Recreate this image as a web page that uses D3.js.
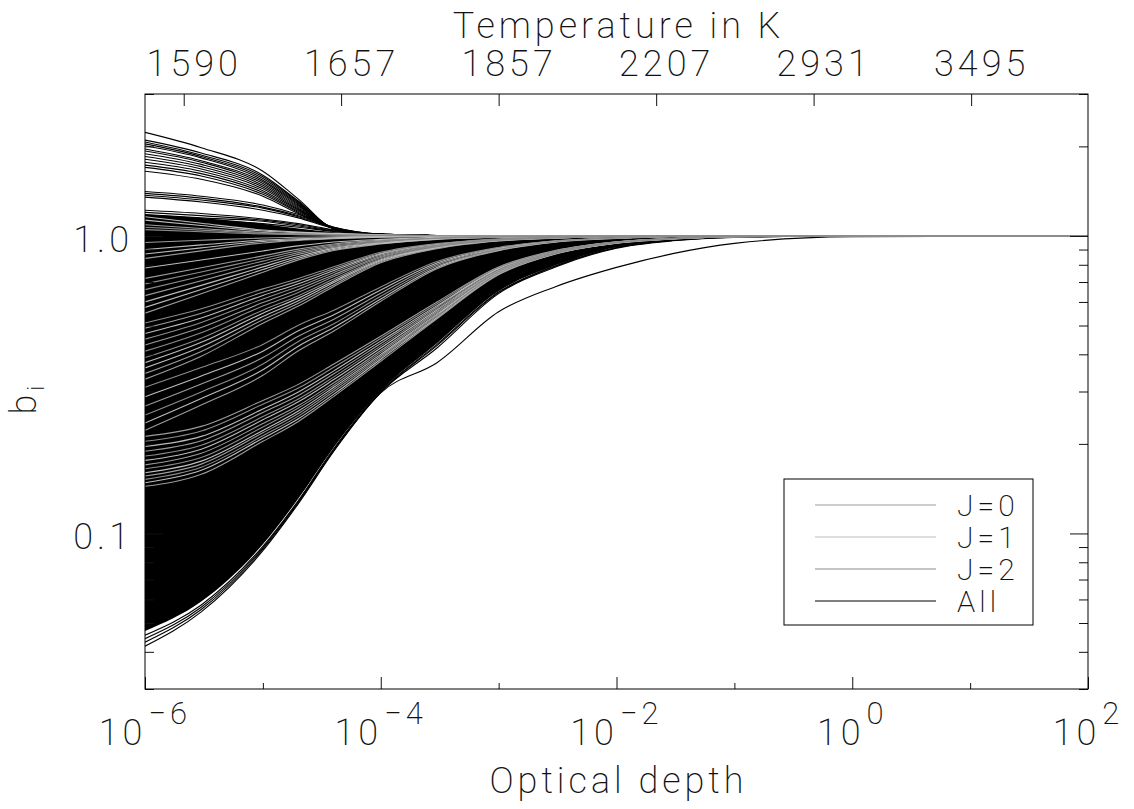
<!DOCTYPE html>
<html>
<head>
<meta charset="utf-8">
<script src="https://cdn.jsdelivr.net/npm/d3@7"></script>
<style>
  body { margin: 0; background: #fff; }
  svg text { font-family: Roboto, "DejaVu Sans", sans-serif; font-weight: 200; fill: #111; letter-spacing: 4px; }
</style>
</head>
<body>
<svg id="chart"></svg>
<script>
// optical depth points that every curve is read at
const tauGrid = [1e-6, 3e-6, 1e-5, 2e-5, 4e-5, 1e-4, 3e-4, 1e-3, 3e-3, 1e-2, 3e-2, 1e-1, 1, 100];

const xMajorTicks = [1e-6, 1e-4, 1e-2, 1, 100];
const xMinorTicks = [1e-5, 1e-3, 1e-1, 10];
const xLabelExp = [-6, -4, -2, 0, 2];
const yMajorTicks = [0.1, 1.0];
const yMinorTicks = [0.03, 0.04, 0.05, 0.06, 0.07, 0.08, 0.09, 0.2, 0.3, 0.4, 0.5, 0.6, 0.7, 0.8, 0.9, 2, 3];
const tempLabels = ["1590", "1657", "1857", "2207", "2931", "3495"];
const tempTickTau = [2.13e-6, 4.61e-5, 1.0e-3, 2.17e-2, 0.470, 10.2];
const legendLabels = ["J=0", "J=1", "J=2", "All"];

// the solid black mass of overlapping level curves
const denseLow  = [0.047, 0.059, 0.092, 0.131, 0.195, 0.301, 0.436, 0.652, 0.795, 0.916, 0.967, 0.990, 1, 1];
const denseHigh = [1.18, 1.15, 1.10, 1.06, 1.03, 1.01, 1.003, 1, 1, 1, 1, 1, 1, 1];

// All levels (black)
const allCurves = [
  [2.23, 1.98, 1.65, 1.33, 1.06, 1.012, 1.003, 1, 1, 1, 1, 1, 1, 1],
  [2.10, 1.90, 1.60, 1.31, 1.06, 1.012, 1.003, 1, 1, 1, 1, 1, 1, 1],
  [2.07, 1.87, 1.58, 1.30, 1.06, 1.012, 1.003, 1, 1, 1, 1, 1, 1, 1],
  [2.04, 1.85, 1.56, 1.29, 1.06, 1.012, 1.003, 1, 1, 1, 1, 1, 1, 1],
  [2.01, 1.83, 1.54, 1.28, 1.06, 1.012, 1.003, 1, 1, 1, 1, 1, 1, 1],
  [1.96, 1.79, 1.52, 1.27, 1.06, 1.012, 1.003, 1, 1, 1, 1, 1, 1, 1],
  [1.93, 1.77, 1.50, 1.26, 1.06, 1.012, 1.003, 1, 1, 1, 1, 1, 1, 1],
  [1.89, 1.74, 1.48, 1.25, 1.06, 1.012, 1.003, 1, 1, 1, 1, 1, 1, 1],
  [1.85, 1.71, 1.46, 1.24, 1.06, 1.012, 1.003, 1, 1, 1, 1, 1, 1, 1],
  [1.81, 1.68, 1.44, 1.23, 1.06, 1.012, 1.003, 1, 1, 1, 1, 1, 1, 1],
  [1.77, 1.65, 1.42, 1.22, 1.06, 1.012, 1.003, 1, 1, 1, 1, 1, 1, 1],
  [1.73, 1.62, 1.40, 1.21, 1.06, 1.012, 1.003, 1, 1, 1, 1, 1, 1, 1],
  [1.70, 1.59, 1.38, 1.20, 1.06, 1.012, 1.003, 1, 1, 1, 1, 1, 1, 1],
  [1.65, 1.55, 1.36, 1.19, 1.06, 1.012, 1.003, 1, 1, 1, 1, 1, 1, 1],
  [1.41, 1.36, 1.27, 1.18, 1.07, 1.015, 1.004, 1, 1, 1, 1, 1, 1, 1],
  [1.39, 1.34, 1.25, 1.17, 1.07, 1.015, 1.004, 1, 1, 1, 1, 1, 1, 1],
  [1.37, 1.32, 1.24, 1.16, 1.065, 1.014, 1.004, 1, 1, 1, 1, 1, 1, 1],
  [1.35, 1.30, 1.22, 1.15, 1.06, 1.013, 1.003, 1, 1, 1, 1, 1, 1, 1],
  [1.22, 1.19, 1.14, 1.10, 1.05, 1.012, 1.003, 1, 1, 1, 1, 1, 1, 1],
  [1.20, 1.17, 1.13, 1.09, 1.045, 1.011, 1.003, 1, 1, 1, 1, 1, 1, 1],
  [1.18, 1.15, 1.12, 1.08, 1.04, 1.010, 1.002, 1, 1, 1, 1, 1, 1, 1],
  [1.15, 1.13, 1.10, 1.07, 1.035, 1.010, 1.002, 1, 1, 1, 1, 1, 1, 1],
  [0.0455, 0.0575, 0.0905, 0.129, 0.193, 0.300, 0.432, 0.648, 0.793, 0.915, 0.966, 0.990, 1, 1],
  [0.0443, 0.0565, 0.0895, 0.128, 0.191, 0.299, 0.428, 0.645, 0.790, 0.913, 0.965, 0.990, 1, 1],
  [0.0431, 0.0555, 0.0885, 0.127, 0.190, 0.298, 0.420, 0.640, 0.785, 0.910, 0.963, 0.989, 1, 1],
  [0.0418, 0.0545, 0.0875, 0.126, 0.189, 0.297, 0.375, 0.556, 0.674, 0.784, 0.872, 0.944, 0.995, 1]
];

const j0Curves = [
  [0.144, 0.158, 0.204, 0.238, 0.289, 0.379, 0.527, 0.741, 0.868, 0.945, 0.977, 0.995, 1, 1],
  [0.156, 0.171, 0.218, 0.253, 0.305, 0.395, 0.542, 0.751, 0.873, 0.948, 0.978, 0.995, 1, 1],
  [0.170, 0.186, 0.234, 0.269, 0.321, 0.412, 0.557, 0.761, 0.879, 0.950, 0.979, 0.995, 1, 1],
  [0.189, 0.205, 0.255, 0.291, 0.344, 0.435, 0.577, 0.774, 0.885, 0.953, 0.980, 0.996, 1, 1],
  [0.212, 0.229, 0.280, 0.317, 0.371, 0.460, 0.600, 0.787, 0.893, 0.956, 0.981, 0.996, 1, 1],
  [0.222, 0.270, 0.340, 0.411, 0.479, 0.603, 0.776, 0.892, 0.953, 0.981, 0.995, 0.998, 1, 1],
  [0.268, 0.318, 0.390, 0.460, 0.525, 0.642, 0.802, 0.905, 0.959, 0.984, 0.996, 0.998, 1, 1],
  [0.330, 0.394, 0.509, 0.581, 0.676, 0.812, 0.906, 0.962, 0.983, 0.997, 0.999, 1, 1, 1],
  [0.345, 0.409, 0.523, 0.594, 0.686, 0.819, 0.910, 0.963, 0.984, 0.997, 0.999, 1, 1, 1],
  [0.430, 0.492, 0.597, 0.661, 0.741, 0.853, 0.927, 0.971, 0.987, 0.997, 0.999, 1, 1, 1],
  [0.490, 0.550, 0.647, 0.705, 0.776, 0.874, 0.938, 0.975, 0.989, 0.998, 0.999, 1, 1, 1],
  [0.550, 0.639, 0.755, 0.831, 0.893, 0.939, 0.974, 0.989, 0.998, 0.999, 1, 1, 1, 1],
  [0.630, 0.707, 0.805, 0.867, 0.916, 0.952, 0.980, 0.992, 0.998, 1, 1, 1, 1, 1],
  [0.720, 0.782, 0.857, 0.903, 0.940, 0.966, 0.986, 0.994, 0.999, 1, 1, 1, 1, 1],
  [0.840, 0.891, 0.947, 0.966, 0.978, 0.990, 0.996, 0.999, 1, 1, 1, 1, 1, 1],
  [0.950, 0.967, 0.984, 0.990, 0.993, 0.997, 0.999, 1, 1, 1, 1, 1, 1, 1],
  [1.090, 1.059, 1.027, 1.017, 1.011, 1.005, 1.002, 1, 1, 1, 1, 1, 1, 1]
];

const j1Curves = [
  [0.148, 0.163, 0.209, 0.243, 0.294, 0.385, 0.532, 0.745, 0.870, 0.946, 0.977, 0.995, 1, 1],
  [0.160, 0.175, 0.222, 0.258, 0.310, 0.400, 0.546, 0.754, 0.875, 0.948, 0.978, 0.995, 1, 1],
  [0.176, 0.192, 0.241, 0.277, 0.329, 0.420, 0.564, 0.765, 0.881, 0.951, 0.979, 0.996, 1, 1],
  [0.196, 0.212, 0.262, 0.299, 0.352, 0.443, 0.583, 0.778, 0.888, 0.954, 0.980, 0.996, 1, 1],
  [0.235, 0.284, 0.355, 0.426, 0.492, 0.614, 0.784, 0.896, 0.955, 0.982, 0.996, 0.998, 1, 1],
  [0.288, 0.338, 0.410, 0.480, 0.543, 0.658, 0.811, 0.910, 0.961, 0.984, 0.996, 0.998, 1, 1],
  [0.360, 0.424, 0.536, 0.606, 0.697, 0.825, 0.913, 0.965, 0.985, 0.997, 0.999, 1, 1, 1],
  [0.375, 0.439, 0.550, 0.618, 0.706, 0.832, 0.916, 0.966, 0.985, 0.997, 0.999, 1, 1, 1],
  [0.470, 0.530, 0.631, 0.691, 0.765, 0.868, 0.935, 0.974, 0.989, 0.998, 0.999, 1, 1, 1],
  [0.575, 0.661, 0.771, 0.842, 0.900, 0.943, 0.976, 0.990, 0.998, 0.999, 1, 1, 1, 1],
  [0.600, 0.682, 0.787, 0.853, 0.908, 0.947, 0.978, 0.991, 0.998, 0.999, 1, 1, 1, 1],
  [0.780, 0.830, 0.890, 0.926, 0.954, 0.974, 0.989, 0.996, 0.999, 1, 1, 1, 1, 1],
  [0.870, 0.912, 0.958, 0.972, 0.982, 0.992, 0.997, 1, 1, 1, 1, 1, 1, 1],
  [0.900, 0.933, 0.968, 0.979, 0.986, 0.994, 0.997, 1, 1, 1, 1, 1, 1, 1],
  [1.130, 1.084, 1.039, 1.025, 1.016, 1.007, 1.003, 1, 1, 1, 1, 1, 1, 1],
  [1.160, 1.103, 1.047, 1.030, 1.020, 1.009, 1.004, 1, 1, 1, 1, 1, 1, 1]
];

const j2Curves = [
  [0.152, 0.167, 0.213, 0.248, 0.300, 0.390, 0.537, 0.748, 0.872, 0.947, 0.978, 0.995, 1, 1],
  [0.165, 0.180, 0.228, 0.264, 0.315, 0.406, 0.552, 0.758, 0.877, 0.949, 0.979, 0.995, 1, 1],
  [0.182, 0.198, 0.247, 0.283, 0.336, 0.427, 0.570, 0.769, 0.883, 0.952, 0.980, 0.996, 1, 1],
  [0.204, 0.221, 0.272, 0.308, 0.362, 0.452, 0.592, 0.783, 0.890, 0.955, 0.981, 0.996, 1, 1],
  [0.250, 0.299, 0.371, 0.442, 0.507, 0.627, 0.792, 0.900, 0.956, 0.983, 0.996, 0.998, 1, 1],
  [0.310, 0.361, 0.432, 0.501, 0.563, 0.674, 0.821, 0.915, 0.963, 0.985, 0.996, 0.998, 1, 1],
  [0.390, 0.453, 0.563, 0.630, 0.716, 0.838, 0.920, 0.968, 0.986, 0.997, 0.999, 1, 1, 1],
  [0.410, 0.473, 0.581, 0.646, 0.730, 0.846, 0.924, 0.969, 0.987, 0.997, 0.999, 1, 1, 1],
  [0.450, 0.512, 0.614, 0.676, 0.754, 0.861, 0.931, 0.972, 0.988, 0.998, 0.999, 1, 1, 1],
  [0.510, 0.569, 0.664, 0.719, 0.788, 0.881, 0.942, 0.977, 0.990, 0.998, 0.999, 1, 1, 1],
  [0.660, 0.732, 0.823, 0.879, 0.924, 0.957, 0.982, 0.993, 0.998, 1, 1, 1, 1, 1],
  [0.690, 0.757, 0.840, 0.891, 0.932, 0.961, 0.984, 0.993, 0.999, 1, 1, 1, 1, 1],
  [1.050, 1.033, 1.015, 1.010, 1.006, 1.003, 1.001, 1, 1, 1, 1, 1, 1, 1],
  [1.070, 1.046, 1.021, 1.014, 1.009, 1.004, 1.002, 1, 1, 1, 1, 1, 1, 1]
];

const groupColors = ["#9c9c9c", "#bdbdbd", "#8c8c8c", "#000000"];

class BiPlot {
  constructor(config) {
    this.config = {
      parent: config.parent,
      width: config.width || 1134,
      height: config.height || 809,
      margin: config.margin || {top: 94, right: 46, bottom: 120, left: 145}
    };
    this.init();
  }

  init() {
    let self = this;

    self.svg = d3.select(self.config.parent)
      .attr('width', self.config.width)
      .attr('height', self.config.height);

    self.inner_width = self.config.width - self.config.margin.left - self.config.margin.right;
    self.inner_height = self.config.height - self.config.margin.top - self.config.margin.bottom;

    self.chart = self.svg.append('g')
      .attr('transform', `translate(${self.config.margin.left}, ${self.config.margin.top})`);

    self.xscale = d3.scaleLog().domain([1e-6, 1e2]).range([0, self.inner_width]);
    self.yscale = d3.scaleLog().domain([0.03, 3]).range([self.inner_height, 0]);

    self.svg.append('clipPath').attr('id', 'plotclip')
      .append('rect')
      .attr('width', self.inner_width)
      .attr('height', self.inner_height);

    self.render();
  }

  render() {
    let self = this;
    const x = self.xscale, y = self.yscale;

    const plot = self.chart.append('g').attr('clip-path', 'url(#plotclip)');

    // dense black band
    const band = denseLow.map((lo, i) => ({t: tauGrid[i], lo: lo, hi: denseHigh[i]}));
    const area = d3.area()
      .x(d => x(d.t))
      .y0(d => y(d.lo))
      .y1(d => y(d.hi))
      .curve(d3.curveMonotoneX);
    plot.append('path').attr('d', area(band)).attr('fill', '#000');

    const line = d3.line()
      .x((d, i) => x(tauGrid[i]))
      .y(d => y(d))
      .curve(d3.curveMonotoneX);

    const groups = [
      {curves: allCurves, color: groupColors[3]},
      {curves: j0Curves, color: groupColors[0]},
      {curves: j1Curves, color: groupColors[1]},
      {curves: j2Curves, color: groupColors[2]}
    ];
    groups.forEach(g => {
      plot.append('g').selectAll('path')
        .data(g.curves)
        .join('path')
        .attr('d', d => line(d))
        .attr('fill', 'none')
        .attr('stroke', g.color)
        .attr('stroke-width', 1.1);
    });

    // axes
    const styleAxis = (g) => {
      g.select('.domain').remove();
      g.attr('font-family', null).attr('font-size', 36).style('color', '#111');
    };

    self.chart.append('g')
      .attr('transform', `translate(0, ${self.inner_height})`)
      .call(d3.axisBottom(x).tickValues(xMajorTicks).tickSize(-12).tickFormat(''))
      .call(styleAxis);
    self.chart.append('g')
      .attr('transform', `translate(0, ${self.inner_height})`)
      .call(d3.axisBottom(x).tickValues(xMinorTicks).tickSize(-6).tickFormat(''))
      .call(styleAxis);

    self.chart.append('g')
      .call(d3.axisTop(x).tickValues(tempTickTau).tickSize(-12).tickPadding(18)
        .tickFormat((d, i) => tempLabels[i]))
      .call(styleAxis)
      .selectAll('text').attr('dx', 10);

    self.chart.append('g')
      .call(d3.axisLeft(y).tickValues(yMajorTicks).tickSize(-18).tickPadding(12)
        .tickFormat(d3.format('.1f')))
      .call(styleAxis)
      .selectAll('text').attr('dy', '0.42em');
    self.chart.append('g')
      .call(d3.axisLeft(y).tickValues(yMinorTicks).tickSize(-9).tickFormat(''))
      .call(styleAxis);

    self.chart.append('g')
      .attr('transform', `translate(${self.inner_width}, 0)`)
      .call(d3.axisRight(y).tickValues(yMajorTicks).tickSize(-18).tickFormat(''))
      .call(styleAxis);
    self.chart.append('g')
      .attr('transform', `translate(${self.inner_width}, 0)`)
      .call(d3.axisRight(y).tickValues(yMinorTicks).tickSize(-9).tickFormat(''))
      .call(styleAxis);

    self.chart.append('rect')
      .attr('width', self.inner_width)
      .attr('height', self.inner_height)
      .attr('fill', 'none')
      .attr('stroke', '#000')
      .attr('stroke-width', 1);

    // 10^n labels on the optical depth axis
    self.chart.selectAll('.xlab')
      .data(xLabelExp)
      .join('text')
      .attr('class', 'xlab')
      .attr('x', d => x(Math.pow(10, d)))
      .attr('y', self.inner_height + 56)
      .attr('text-anchor', 'middle')
      .attr('font-size', 36)
      .each(function(d) {
        const t = d3.select(this);
        t.append('tspan').text('10');
        t.append('tspan')
          .attr('dx', 2)
          .attr('dy', -21)
          .attr('font-size', 31)
          .text(d < 0 ? '\u2212' + (-d) : String(d));
      });

    self.svg.append('text')
      .attr('x', self.config.margin.left + self.inner_width / 2 + 2)
      .attr('y', 38)
      .attr('text-anchor', 'middle')
      .attr('font-size', 36)
      .text('Temperature in K');

    self.svg.append('text')
      .attr('x', self.config.margin.left + self.inner_width / 2 + 2)
      .attr('y', 793)
      .attr('text-anchor', 'middle')
      .attr('font-size', 36)
      .text('Optical depth');

    const ylab = self.svg.append('text')
      .attr('transform', 'translate(36, 398) rotate(-90)')
      .attr('text-anchor', 'middle')
      .attr('font-size', 36);
    ylab.append('tspan').text('b');
    ylab.append('tspan').attr('dy', 8).attr('font-size', 24).text('i');

    // legend
    const legend = self.svg.append('g').attr('transform', 'translate(784, 479)');
    legend.append('rect')
      .attr('width', 249).attr('height', 146)
      .attr('fill', '#fff').attr('stroke', '#000').attr('stroke-width', 1);
    const item = legend.selectAll('.item')
      .data(legendLabels)
      .join('g')
      .attr('class', 'item')
      .attr('transform', (d, i) => `translate(0, ${26 + i * 32})`);
    item.append('line')
      .attr('x1', 31).attr('x2', 152)
      .attr('stroke', (d, i) => groupColors[i])
      .attr('stroke-width', 1.1);
    item.append('text')
      .attr('x', 173)
      .attr('y', 11)
      .attr('font-size', 30)
      .text(d => d);
  }
}

new BiPlot({parent: '#chart'});
</script>
</body>
</html>
